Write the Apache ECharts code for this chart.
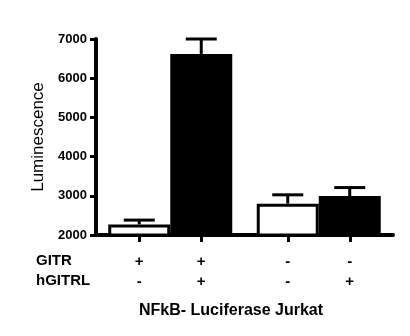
<!DOCTYPE html>
<html>
<head>
<meta charset="utf-8">
<script src="https://cdn.jsdelivr.net/npm/echarts@6/dist/echarts.min.js"></script>
<style>html,body{margin:0;padding:0;background:#fff}#c{width:410px;height:336px}</style>
</head>
<body>
<div id="c"></div>
<script>
// ---- data ----
const groups = ['NFkB-Luc A', 'NFkB-Luc B'];
const whiteMeans = [2270, 2800];
const whiteErr = [110, 225];
const blackMeans = [6620, 2995];
const blackErr = [380, 215];
const gitrRow = ['+', '+', '-', '-'];
const hgitrlRow = ['-', '+', '-', '+'];
const yTicks = { min: 2000, max: 7000, interval: 1000 };

// ---- layout ----
const FONT = 'Liberation Sans, Arial, sans-serif';
const gridLeft = 96, gridRight = 17, gridTop = 39, gridBottom = 101;
const barWidth = 62;
const gridW = 410 - gridLeft - gridRight;
const unitPx = gridW / (groups.length * 2);
const off = (barWidth / 2) / unitPx;
const tickVals = [];
groups.forEach((g, i) => { tickVals.push(2 * i + 1 - off, 2 * i + 1 + off); });

function errSeries(means, errs, sign) {
  return {
    type: 'custom',
    xAxisIndex: 0,
    clip: false,
    z: 5,
    data: means.map((m, i) => [i, m, errs[i]]),
    renderItem: function (params, api) {
      const base = api.coord([api.value(0), api.value(1)]);
      const top = api.coord([api.value(0), api.value(1) + api.value(2)]);
      const x = base[0] + sign * barWidth / 2;
      const st = { stroke: '#000', lineWidth: 3 };
      return {
        type: 'group',
        children: [
          { type: 'line', shape: { x1: x, y1: base[1], x2: x, y2: top[1] }, style: st },
          { type: 'line', shape: { x1: x - 15.5, y1: top[1], x2: x + 15.5, y2: top[1] }, style: st }
        ]
      };
    }
  };
}

const chart = echarts.init(document.getElementById('c'), null, { renderer: 'canvas' });
chart.setOption({
  animation: false,
  backgroundColor: '#fff',
  grid: { left: gridLeft, right: gridRight, top: gridTop, bottom: gridBottom },
  xAxis: [
    {
      type: 'category',
      data: groups,
      axisLine: { show: true, lineStyle: { color: '#000', width: 4 } },
      axisTick: { show: false },
      axisLabel: { show: false }
    },
    {
      type: 'value',
      min: 0,
      max: groups.length * 2,
      position: 'bottom',
      axisLine: { show: false },
      splitLine: { show: false },
      axisTick: { show: true, customValues: tickVals, length: 7, lineStyle: { color: '#000', width: 3 } },
      axisLabel: {
        show: true,
        customValues: tickVals,
        margin: 17,
        color: '#000',
        fontFamily: FONT,
        fontWeight: 'bold',
        fontSize: 15,
        lineHeight: 20,
        formatter: function (v) {
          let idx = 0, best = 1e9;
          tickVals.forEach((t, i) => { if (Math.abs(t - v) < best) { best = Math.abs(t - v); idx = i; } });
          return gitrRow[idx] + '\n' + hgitrlRow[idx];
        }
      }
    }
  ],
  yAxis: {
    type: 'value',
    min: yTicks.min,
    max: yTicks.max,
    interval: yTicks.interval,
    name: 'Luminescence',
    nameLocation: 'middle',
    nameGap: 49,
    nameTextStyle: { color: '#000', fontFamily: FONT, fontSize: 17 },
    axisLine: { show: true, lineStyle: { color: '#000', width: 4 } },
    axisTick: { show: true, length: 6, lineStyle: { color: '#000', width: 3 } },
    axisLabel: {
      color: '#000', fontFamily: FONT, fontWeight: 'bold', fontSize: 13, margin: 9,
      formatter: function (v) { return String(v); }
    },
    splitLine: { show: false }
  },
  series: [
    {
      type: 'bar',
      name: 'hGITRL -',
      data: whiteMeans,
      barWidth: barWidth,
      barGap: '0%',
      itemStyle: { color: '#fff', borderColor: '#000', borderWidth: 3 },
      z: 3
    },
    {
      type: 'bar',
      name: 'hGITRL +',
      data: blackMeans,
      barWidth: barWidth,
      barGap: '0%',
      itemStyle: { color: '#000', borderColor: '#000', borderWidth: 0 },
      z: 2
    },
    errSeries(whiteMeans, whiteErr, -1),
    errSeries(blackMeans, blackErr, 1)
  ],
  graphic: [
    { type: 'text', left: 36, top: 253, style: { text: 'GITR', fill: '#000', font: 'bold 15px ' + FONT } },
    { type: 'text', left: 36, top: 273, style: { text: 'hGITRL', fill: '#000', font: 'bold 15px ' + FONT } },
    { type: 'text', left: 139, top: 303, style: { text: 'NFkB- Luciferase Jurkat', fill: '#000', font: 'bold 16px ' + FONT } }
  ]
});
</script>
</body>
</html>
